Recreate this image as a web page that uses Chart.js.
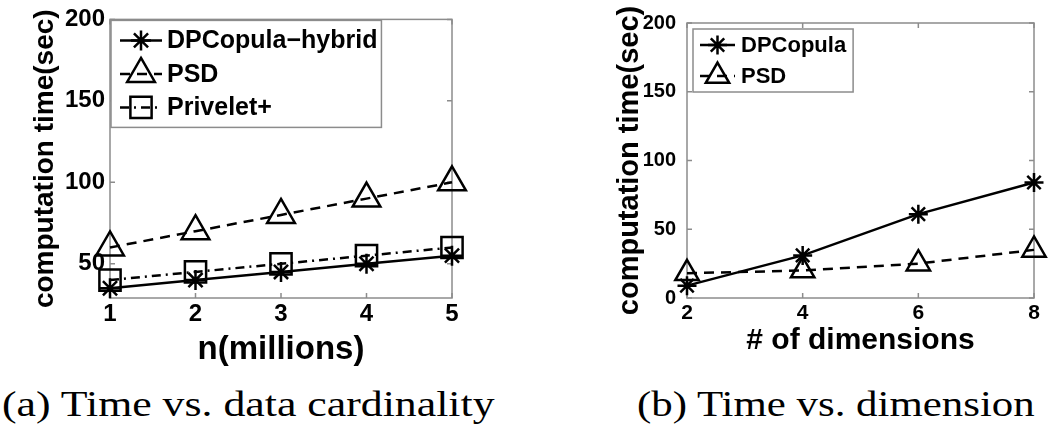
<!DOCTYPE html>
<html>
<head>
<meta charset="utf-8">
<script src="https://cdn.jsdelivr.net/npm/chart.js@4.4.1/dist/chart.umd.min.js"></script>
<style>
  body { margin: 0; background: #fff; width: 1050px; height: 427px; overflow: hidden; position: relative; }
  .panel { position: absolute; top: 0; }
  .caption { position: absolute; font-family: 'Liberation Serif', serif; font-size: 35px; line-height: 1; color: #000; white-space: nowrap; transform-origin: left center; }
</style>
</head>
<body>
<div class="panel" style="left:0;width:480px;height:375px"><canvas id="cardChart" width="480" height="375"></canvas></div>
<div class="panel" style="left:560px;width:490px;height:375px"><canvas id="dimChart" width="490" height="375"></canvas></div>
<div class="caption" id="capA" style="left:2px;top:387px">(a) Time vs. data cardinality</div>
<div class="caption" id="capB" style="left:637px;top:387px">(b) Time vs. dimension</div>
<script>
// (a) time vs. data cardinality
const cardN = [1, 2, 3, 4, 5];
const cardHybrid = [35, 40, 45, 50, 55];
const cardPSD = [60, 70, 80, 90, 100];
const cardPrivelet = [40, 45, 50, 55, 60];

// (b) time vs. dimension
const dims = [2, 4, 6, 8];
const dimCopula = [9, 31, 61, 84];
const dimPSD = [18, 20, 25, 35];

const timeTicks = [0, 50, 100, 150, 200];

const FONT = "'Liberation Sans', Arial, Helvetica, sans-serif";
const BOX_GRAY = '#8c8c8c';

Chart.defaults.font.family = FONT;
Chart.defaults.font.weight = 'bold';
Chart.defaults.color = '#000';

function points(xs, ys) {
  return xs.map((x, i) => ({ x: x, y: ys[i] }));
}

function fixedTicks(values) {
  return function (scale) {
    scale.ticks = values.filter(v => v >= scale.min && v <= scale.max).map(v => ({ value: v }));
  };
}

// matlab style box with inward ticks on all four sides
const boxPlugin = {
  id: 'mlBox',
  beforeDatasetsDraw(chart) {
    const { ctx, chartArea: a, scales } = chart;
    ctx.save();
    ctx.strokeStyle = BOX_GRAY;
    ctx.lineWidth = 1.5;
    ctx.strokeRect(a.left, a.top, a.right - a.left, a.bottom - a.top);
    ctx.beginPath();
    scales.x.ticks.forEach(t => {
      const px = scales.x.getPixelForValue(t.value);
      ctx.moveTo(px, a.bottom); ctx.lineTo(px, a.bottom - 5);
      ctx.moveTo(px, a.top); ctx.lineTo(px, a.top + 5);
    });
    scales.y.ticks.forEach(t => {
      const py = scales.y.getPixelForValue(t.value);
      ctx.moveTo(a.left, py); ctx.lineTo(a.left + 5, py);
      ctx.moveTo(a.right, py); ctx.lineTo(a.right - 5, py);
    });
    ctx.stroke();
    ctx.restore();
  }
};

// legend drawn inside the plot area, top left
const legendPlugin = {
  id: 'mlLegend',
  afterDatasetsDraw(chart, args, opts) {
    const { ctx, chartArea: a } = chart;
    const sets = chart.data.datasets;
    ctx.save();
    ctx.font = opts.font;
    const textW = Math.max(...sets.map(d => ctx.measureText(d.label).width));
    const x0 = a.left + opts.dx;
    const y0 = a.top + opts.dy;
    const w = opts.textX + textW + opts.padRight;
    const h = opts.first * 2 + opts.row * (sets.length - 1);
    ctx.fillStyle = '#fff';
    ctx.fillRect(x0, y0, w, h);
    ctx.strokeStyle = BOX_GRAY;
    ctx.lineWidth = 1.5;
    ctx.strokeRect(x0, y0, w, h);
    sets.forEach((d, i) => {
      const cy = y0 + opts.first + i * opts.row;
      ctx.strokeStyle = '#000';
      ctx.lineWidth = d.borderWidth;
      ctx.setLineDash(d.borderDash || []);
      ctx.beginPath();
      ctx.moveTo(x0 + opts.lineFrom, cy);
      ctx.lineTo(x0 + opts.lineTo, cy);
      ctx.stroke();
      ctx.setLineDash([]);
      ctx.lineWidth = d.pointBorderWidth;
      ctx.fillStyle = 'rgba(0,0,0,0)';
      Chart.helpers.drawPoint(ctx, {
        pointStyle: d.pointStyle, rotation: 0, radius: d.pointRadius, borderWidth: d.pointBorderWidth
      }, x0 + (opts.lineFrom + opts.lineTo) / 2, cy);
      ctx.fillStyle = '#000';
      ctx.textBaseline = 'middle';
      ctx.textAlign = 'left';
      ctx.fillText(d.label, x0 + opts.textX, cy + 1);
    });
    ctx.restore();
  }
};

function series(label, data, style, radius, dash) {
  return {
    label: label,
    data: data,
    borderColor: '#000',
    borderWidth: 2.5,
    borderDash: dash,
    pointStyle: style,
    pointRadius: radius,
    pointBorderWidth: 2.5,
    pointBorderColor: '#000',
    pointBackgroundColor: 'rgba(0,0,0,0)',
    fill: false,
    tension: 0,
    clip: false
  };
}

function makeChart(id, cfg) {
  return new Chart(document.getElementById(id), {
    type: 'line',
    data: { datasets: cfg.datasets },
    plugins: [boxPlugin, legendPlugin],
    options: {
      responsive: false,
      animation: false,
      devicePixelRatio: 1,
      layout: { padding: cfg.padding },
      plugins: {
        legend: { display: false },
        tooltip: { enabled: false },
        mlLegend: cfg.legend
      },
      scales: {
        x: {
          type: 'linear',
          min: cfg.xMin,
          max: cfg.xMax,
          afterBuildTicks: fixedTicks(cfg.xTicks),
          afterFit(scale) { scale.height = 77; },
          grid: { display: false, drawTicks: false },
          border: { display: false },
          ticks: { color: '#000', padding: cfg.xTickPad, font: { family: FONT, size: cfg.xTickSize, weight: 'bold' } },
          title: {
            display: true, text: cfg.xTitle, color: '#000',
            padding: { top: 0, bottom: cfg.xTitlePad },
            font: { family: FONT, size: cfg.xTitleSize, weight: 'bold' }
          }
        },
        y: {
          type: 'linear',
          min: cfg.yMin,
          max: 200,
          afterBuildTicks: fixedTicks(timeTicks),
          afterFit(scale) { scale.width = cfg.yWidth; },
          grid: { display: false, drawTicks: false },
          border: { display: false },
          ticks: { color: '#000', padding: cfg.yTickPad, font: { family: FONT, size: cfg.yTickSize, weight: 'bold' } },
          title: {
            display: true, text: 'computation time(sec)', color: '#000',
            padding: { top: cfg.yTitlePad, bottom: 0 },
            font: { family: FONT, size: cfg.yTitleSize, weight: 'bold' }
          }
        }
      }
    }
  });
}

makeChart('cardChart', {
  datasets: [
    series('DPCopula\u2212hybrid', points(cardN, cardHybrid), 'star', 10, []),
    series('PSD', points(cardN, cardPSD), 'triangle', 16, [10, 7]),
    series('Privelet+', points(cardN, cardPrivelet), 'rect', 15, [9, 5, 2, 5])
  ],
  padding: { left: 0, right: 28, top: 13, bottom: 0 },
  xMin: 1, xMax: 5, xTicks: cardN,
  xTitle: 'n(millions)', xTitleSize: 33, xTitlePad: 5, xTickSize: 24, xTickPad: 2,
  yMin: 29, yWidth: 110, yTickSize: 24, yTickPad: 5, yTitleSize: 28, yTitlePad: 28,
  legend: { font: 'bold 25px ' + FONT, dx: 1, dy: 1, first: 20, row: 33.5, lineFrom: 9, lineTo: 51, textX: 56, padRight: 4 }
});

makeChart('dimChart', {
  datasets: [
    series('DPCopula', points(dims, dimCopula), 'star', 9.5, []),
    series('PSD', points(dims, dimPSD), 'triangle', 13.5, [10, 7])
  ],
  padding: { left: 0, right: 13, top: 13, bottom: 0 },
  xMin: 2, xMax: 8, xTicks: dims,
  xTitle: '# of dimensions', xTitleSize: 30, xTitlePad: 16, xTickSize: 21, xTickPad: 3,
  yMin: 0, yWidth: 127, yTickSize: 20, yTickPad: 11, yTitleSize: 29, yTitlePad: 52.6,
  legend: { font: 'bold 22px ' + FONT, dx: 6, dy: 6, first: 16, row: 31, lineFrom: 7, lineTo: 42, textX: 48, padRight: 7 }
});

// captions: stretch the serif text to the width it takes in the figure
function fitCaption(id, targetWidth) {
  const el = document.getElementById(id);
  el.style.transform = 'scaleX(' + (targetWidth / el.offsetWidth) + ')';
}
fitCaption('capA', 493);
fitCaption('capB', 398);
</script>
</body>
</html>
